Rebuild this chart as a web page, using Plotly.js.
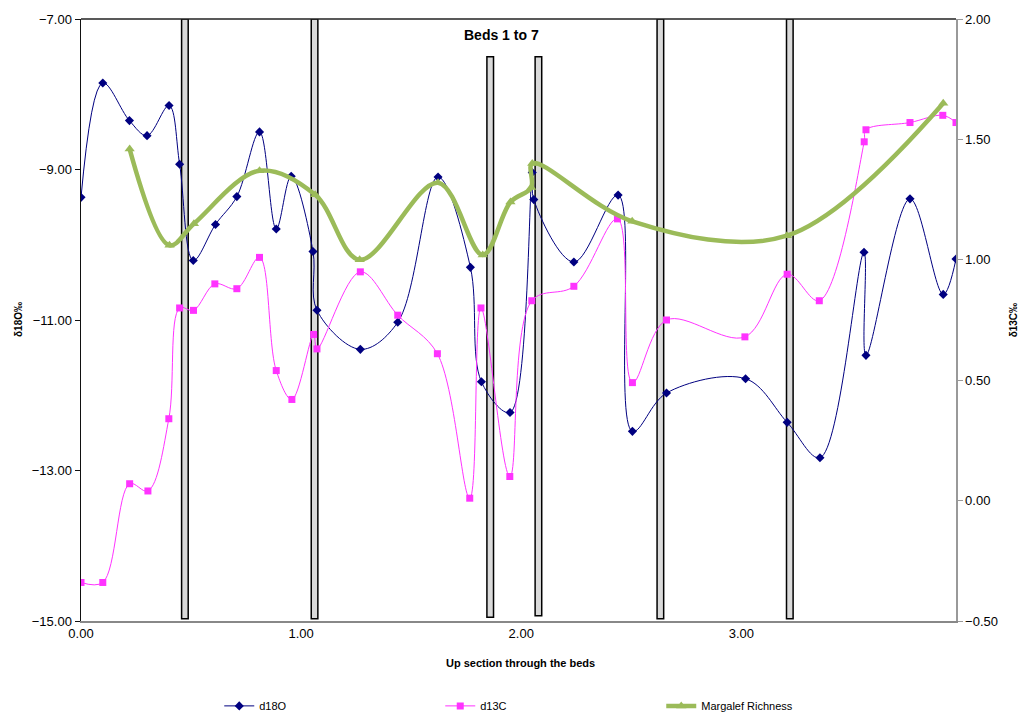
<!DOCTYPE html>
<html>
<head>
<meta charset="utf-8">
<script src="https://cdn.plot.ly/plotly-3.0.1.min.js"></script>
<style>html,body{margin:0;padding:0;background:#fff;}#chart{width:1019px;height:713px;}</style>
</head>
<body>
<div id="chart"></div>
<script>
// d18O series (left axis)
const d18O_x = [0.00, 0.099, 0.22, 0.30, 0.40, 0.448, 0.51, 0.611, 0.708, 0.811, 0.887, 0.955, 1.054, 1.072, 1.269, 1.439, 1.622, 1.769, 1.819, 1.949, 2.050, 2.057, 2.239, 2.44, 2.505, 2.66, 3.019, 3.208, 3.357, 3.557, 3.566, 3.766, 3.917, 3.975];
const d18O_y = [-9.37, -7.85, -8.35, -8.55, -8.15, -8.93, -10.21, -9.73, -9.36, -8.50, -9.79, -9.09, -10.09, -10.87, -11.39, -11.03, -9.10, -10.30, -11.82, -12.23, -9.04, -9.40, -10.23, -9.34, -12.48, -11.97, -11.78, -12.36, -12.83, -10.10, -11.47, -9.39, -10.66, -10.19];

// d13C series (right axis)
const d13C_x = [0.00, 0.099, 0.221, 0.304, 0.399, 0.448, 0.511, 0.608, 0.708, 0.811, 0.887, 0.958, 1.057, 1.072, 1.269, 1.439, 1.619, 1.766, 1.817, 1.948, 2.048, 2.239, 2.437, 2.505, 2.66, 3.016, 3.208, 3.354, 3.558, 3.566, 3.766, 3.915, 3.975];
const d13C_y = [-0.34, -0.34, 0.07, 0.04, 0.34, 0.80, 0.79, 0.90, 0.88, 1.01, 0.54, 0.42, 0.69, 0.63, 0.95, 0.77, 0.61, 0.01, 0.80, 0.10, 0.83, 0.89, 1.17, 0.49, 0.75, 0.68, 0.94, 0.83, 1.49, 1.54, 1.57, 1.60, 1.57];

// Margalef Richness (right axis)
const marg_x = [0.221, 0.402, 0.513, 0.811, 1.064, 1.266, 1.622, 1.825, 1.951, 2.045, 2.05, 2.504, 3.207, 3.917];
const marg_y = [1.46, 1.06, 1.15, 1.37, 1.27, 1.00, 1.32, 1.02, 1.24, 1.30, 1.40, 1.16, 1.10, 1.65];

// Bed markers (x centre, top value on left axis, bottom value)
const beds_x   = [0.472, 1.061, 1.859, 2.078, 2.632, 3.220];
const beds_top = [-7.0, -7.0, -7.5, -7.5, -7.0, -7.0];
const beds_bot = [-14.97, -14.97, -14.95, -14.93, -14.97, -14.97];

const xTitle = 'Up section through the beds';
const yTitle = 'δ18O‰';
const y2Title = 'δ13C‰';
const bedsLabel = 'Beds 1 to 7';

const FONT = 'Liberation Sans, Arial, sans-serif';
const bedHalf = 0.015;

const shapes = beds_x.map((x, i) => ({
  type: 'rect', xref: 'x', yref: 'y', layer: 'below',
  x0: x - bedHalf, x1: x + bedHalf, y0: beds_bot[i], y1: beds_top[i],
  fillcolor: '#d9d9d9', line: {color: '#000', width: 1.5}
}));
shapes.push({type: 'line', xref: 'paper', yref: 'paper', x0: 0, x1: 1, y0: 1, y1: 1, line: {color: '#222', width: 1.5}});

const traces = [
  {x: d18O_x, y: d18O_y, name: 'd18O', type: 'scatter', mode: 'lines+markers',
   line: {color: '#000080', width: 1, shape: 'spline', smoothing: 1},
   marker: {symbol: 'diamond', size: 7, color: '#000080'}},
  {x: d13C_x, y: d13C_y, name: 'd13C', type: 'scatter', mode: 'lines+markers', yaxis: 'y2',
   line: {color: '#FF33FF', width: 1, shape: 'spline', smoothing: 1},
   marker: {symbol: 'square', size: 7, color: '#FF33FF'}},
  {x: marg_x, y: marg_y, name: 'Margalef Richness', type: 'scatter', mode: 'lines+markers', yaxis: 'y2',
   line: {color: '#9BBB59', width: 4.5, shape: 'spline', smoothing: 1},
   marker: {symbol: 'triangle-up', size: 9, color: '#9BBB59'}}
];

const layout = {
  width: 1019, height: 713,
  margin: {l: 81, r: 63, t: 19, b: 92, autoexpand: false},
  paper_bgcolor: '#fff', plot_bgcolor: '#fff',
  font: {family: FONT, size: 13, color: '#000'},
  showlegend: true,
  legend: {orientation: 'h', x: 0.158, xanchor: 'left', y: -0.141, yanchor: 'middle',
           font: {family: FONT, size: 11, color: '#000'}, itemwidth: 30,
           entrywidth: 176, entrywidthmode: 'pixels', tracegroupgap: 0},
  xaxis: {range: [0, 3.975], dtick: 1, tick0: 0, tickformat: '.2f', showgrid: false, zeroline: false,
          automargin: false,
          showline: true, linecolor: '#888', linewidth: 1.5, ticks: '',
          tickfont: {family: FONT, size: 13}},
  yaxis: {range: [-15, -7], dtick: 2, tick0: -15, tickformat: '.2f', showgrid: false, zeroline: false,
          automargin: false,
          showline: true, linecolor: '#111', linewidth: 1.5, ticks: 'outside', ticklen: 5, tickcolor: '#111',
          tickfont: {family: FONT, size: 13}},
  yaxis2: {range: [-0.5, 2], dtick: 0.5, tick0: -0.5, tickformat: '.2f', overlaying: 'y', side: 'right',
           automargin: false,
           showgrid: false, zeroline: false, showline: true, linecolor: '#999', linewidth: 1.5,
           ticks: 'outside', ticklen: 5, tickcolor: '#999', tickfont: {family: FONT, size: 13}},
  shapes: shapes,
  annotations: [
    {text: bedsLabel, xref: 'x', yref: 'paper', x: 1.91, y: 0.973, yanchor: 'middle', showarrow: false,
     font: {family: FONT, size: 14, weight: 'bold', color: '#000'}},
    {text: xTitle, xref: 'paper', yref: 'paper', x: 0.502, y: -0.07, showarrow: false,
     xanchor: 'center', yanchor: 'middle',
     font: {family: FONT, size: 11, weight: 'bold', color: '#000'}},
    {text: yTitle, xref: 'paper', yref: 'paper', x: -0.072, y: 0.5, textangle: -90, showarrow: false,
     xanchor: 'center', yanchor: 'middle',
     font: {family: FONT, size: 10, weight: 'bold', color: '#000'}},
    {text: y2Title, xref: 'paper', yref: 'paper', x: 1.0655, y: 0.5, textangle: -90, showarrow: false,
     xanchor: 'center', yanchor: 'middle',
     font: {family: FONT, size: 10, weight: 'bold', color: '#000'}}
  ]
};

Plotly.newPlot('chart', traces, layout, {displayModeBar: false, staticPlot: true});
</script>
</body>
</html>
